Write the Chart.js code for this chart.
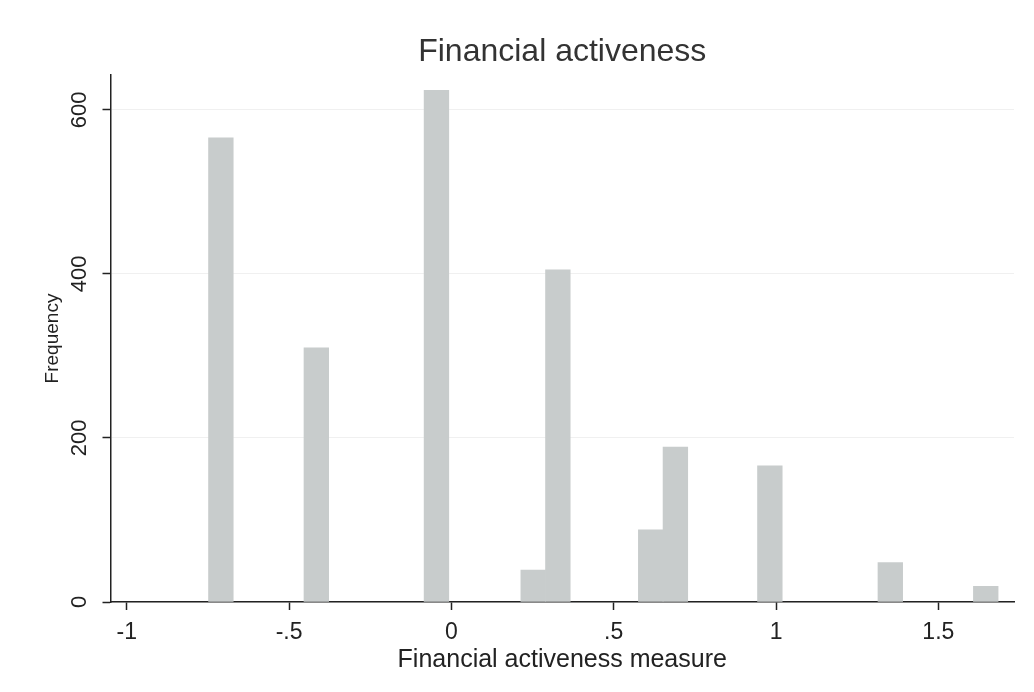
<!DOCTYPE html>
<html>
<head>
<meta charset="utf-8">
<title>Financial activeness</title>
<script src="https://cdn.jsdelivr.net/npm/chart.js@4/dist/chart.umd.min.js"></script>
<style>
  html, body { margin: 0; padding: 0; background: #fff; }
  #wrap { width: 1034px; height: 692px; }
</style>
</head>
<body>
<div id="wrap"><canvas id="histFinAct"></canvas></div>
<script>
// bin midpoints of the activeness measure and their counts
const binCenters = [-0.710, -0.416, -0.046, 0.252, 0.328, 0.614, 0.690, 0.981, 1.352, 1.646];
const frequencies = [566, 310, 624, 39, 405, 88, 189, 166, 48, 19];

// axis ticks
const xTickValues = [-1, -0.5, 0, 0.5, 1, 1.5];
const xTickLabels = ["-1", "-.5", "0", ".5", "1", "1.5"];
const yTickValues = [0, 200, 400, 600];
const yTickLabels = ["0", "200", "400", "600"];

const fontFamily = "'Liberation Sans', Arial, Helvetica, sans-serif";
const inkColor = "#222";

document.addEventListener("DOMContentLoaded", function () {
    const ctx = document.getElementById("histFinAct").getContext("2d");

    new Chart(ctx, {
        type: "bar",
        data: {
            datasets: [
                {
                    label: "Frequency",
                    data: binCenters.map((x, i) => ({ x: x, y: frequencies[i] })),
                    backgroundColor: "#c8cccc",
                    borderWidth: 0,
                    categoryPercentage: 1,
                    barPercentage: 1,
                },
            ],
        },
        options: {
            responsive: true,
            maintainAspectRatio: false,
            animation: false,
            layout: { padding: { left: 0, right: 20, top: 0, bottom: 0 } },
            plugins: {
                legend: { display: false },
                tooltip: { enabled: false },
                title: {
                    display: true,
                    text: "Financial activeness",
                    fullSize: false,
                    color: "#333",
                    font: { family: fontFamily, size: 32, weight: "normal", lineHeight: 1.2 },
                    padding: { top: 33, bottom: 3.6 },
                },
            },
            scales: {
                x: {
                    type: "linear",
                    offset: false,
                    min: -1.05,
                    max: 1.733,
                    afterBuildTicks: (scale) => {
                        scale.ticks = xTickValues.map((v) => ({ value: v }));
                    },
                    grid: {
                        offset: false,
                        drawOnChartArea: false,
                        drawTicks: true,
                        tickLength: 8,
                        tickColor: inkColor,
                        tickWidth: 1.5,
                    },
                    border: { display: true, color: inkColor, width: 1.5 },
                    ticks: {
                        color: inkColor,
                        padding: 11,
                        maxRotation: 0,
                        autoSkip: false,
                        font: { family: fontFamily, size: 23, lineHeight: 1 },
                        callback: (value) => {
                            const i = xTickValues.indexOf(value);
                            return i >= 0 ? xTickLabels[i] : "";
                        },
                    },
                    title: {
                        display: true,
                        text: "Financial activeness measure",
                        color: inkColor,
                        font: { family: fontFamily, size: 25, lineHeight: 1 },
                        padding: { top: -7, bottom: 19 },
                    },
                },
                y: {
                    type: "linear",
                    min: 0,
                    max: 642.6,
                    afterBuildTicks: (scale) => {
                        scale.ticks = yTickValues.map((v) => ({ value: v }));
                    },
                    grid: {
                        color: "rgba(0,0,0,0.06)",
                        lineWidth: 1,
                        drawTicks: true,
                        tickLength: 8,
                        tickColor: inkColor,
                        tickWidth: 1.5,
                    },
                    border: { display: true, color: inkColor, width: 1.5 },
                    ticks: {
                        color: inkColor,
                        padding: 4,
                        minRotation: 90,
                        maxRotation: 90,
                        crossAlign: "center",
                        font: { family: fontFamily, size: 22, lineHeight: 1.2 },
                        callback: (value) => {
                            const i = yTickValues.indexOf(value);
                            return i >= 0 ? yTickLabels[i] : "";
                        },
                    },
                    title: {
                        display: true,
                        text: "Frequency",
                        color: inkColor,
                        font: { family: fontFamily, size: 19, lineHeight: 1.2 },
                        padding: { top: 41, bottom: 4.3 },
                    },
                },
            },
        },
    });
});
</script>
</body>
</html>
